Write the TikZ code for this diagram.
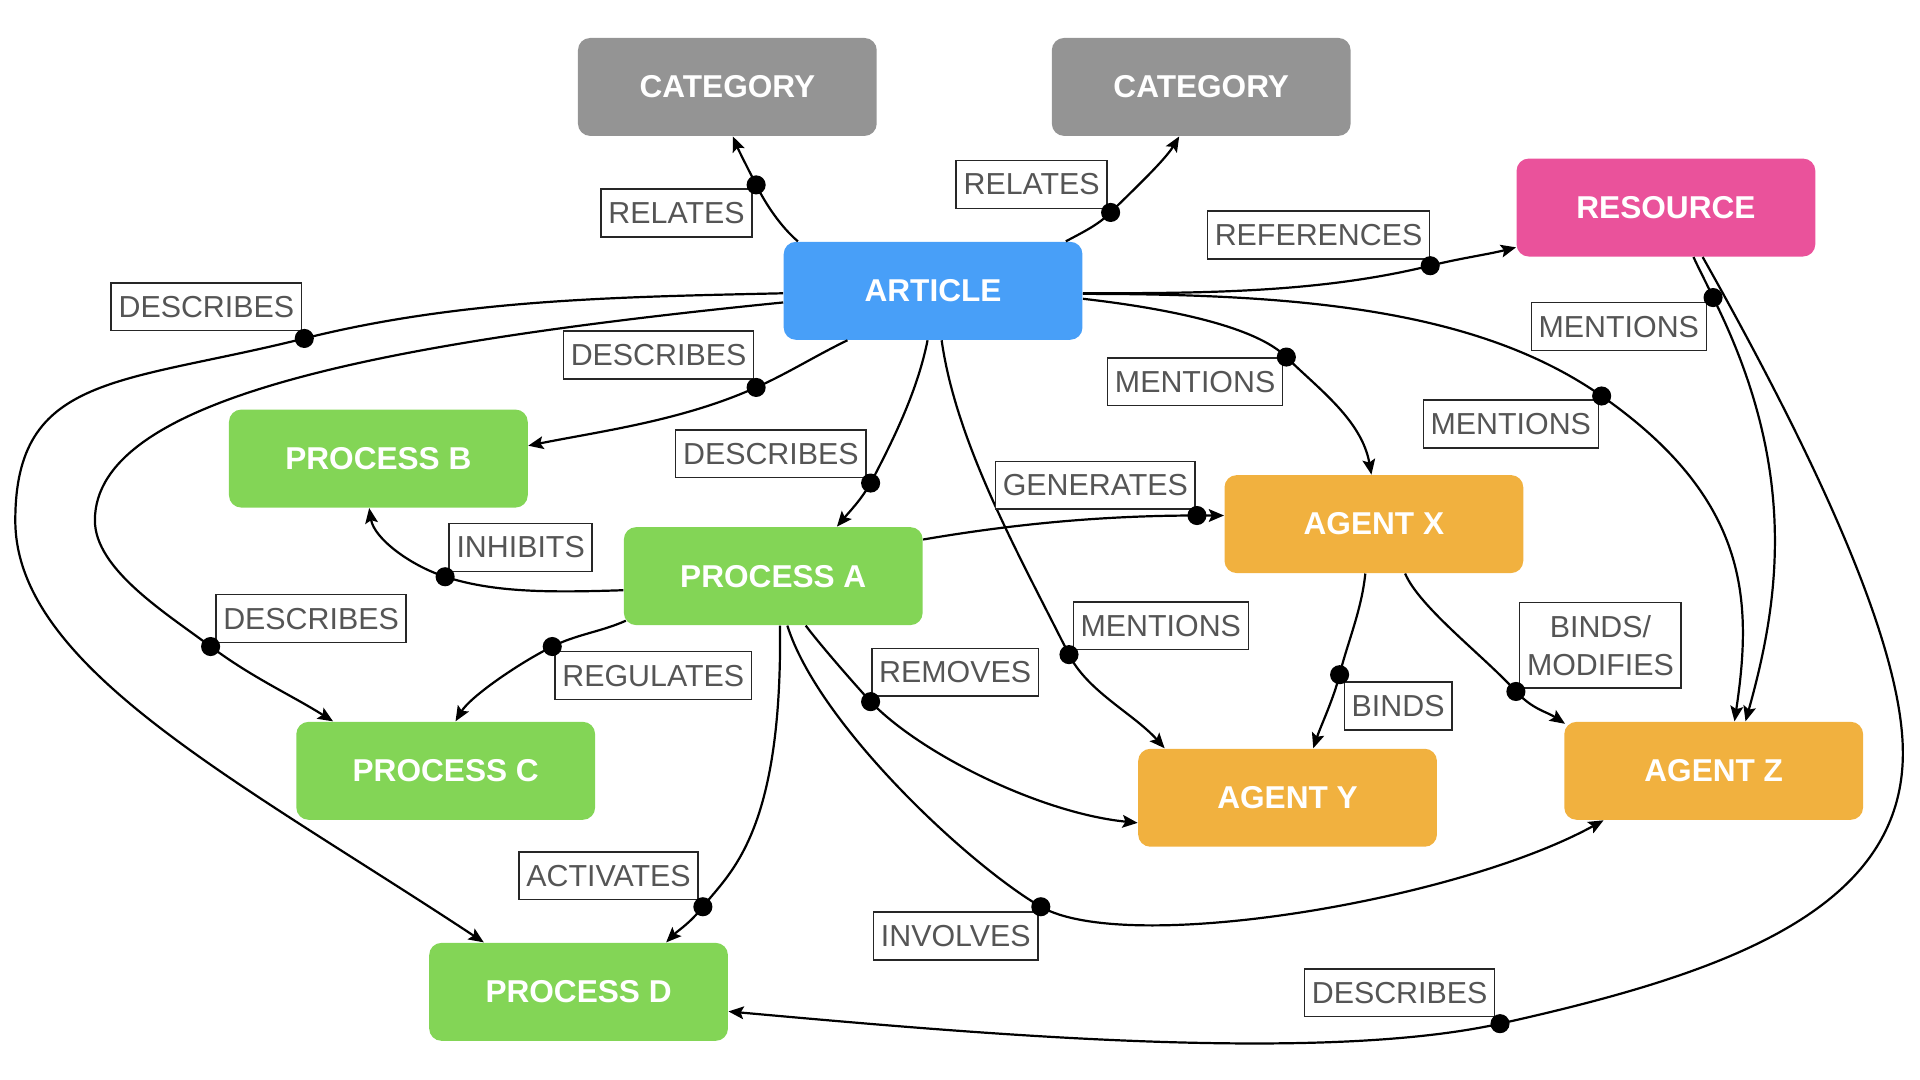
\documentclass[tikz,border=0pt]{standalone}
\usepackage{fontspec}
\setmainfont{Liberation Sans}
\usetikzlibrary{arrows.meta,calc}
\definecolor{catgrey}{HTML}{949494}
\definecolor{artblue}{HTML}{489FF8}
\definecolor{respink}{HTML}{EA529B}
\definecolor{procgreen}{HTML}{83D556}
\definecolor{agentorange}{HTML}{F1B13F}
\definecolor{labtext}{HTML}{555555}
\begin{document}
\begin{tikzpicture}[x=0.5pt,y=-0.5pt,
  box/.style={rounded corners=5pt, minimum width=122pt, minimum height=40pt, inner sep=0pt,
    text=white, font=\bfseries\fontsize{12.9}{15}\selectfont},
  catbox/.style={box, fill=catgrey},
  artbox/.style={box, fill=artblue},
  resbox/.style={box, fill=respink},
  procbox/.style={box, fill=procgreen},
  agentbox/.style={box, fill=agentorange},
  lab/.style={draw=black!85, line width=0.6pt, fill=white, text=labtext,
    font=\fontsize{12.4}{15.5}\selectfont, inner xsep=3pt, inner ysep=0pt,
    minimum height=19.5pt, align=center},
  edge/.style={line width=0.9pt, -{Stealth[length=6.2pt,width=5.2pt,inset=1.2pt]}},
  dot/.style={circle, fill=black, inner sep=0pt, minimum size=7.8pt}
]
\useasboundingbox (0,0) rectangle (1568,882);

% ---------- nodes ----------
\node[catbox]   (cat1) at (594,71)      {CATEGORY};
\node[catbox]   (cat2) at (981,71)      {CATEGORY};
\node[resbox]   (res)  at (1360.5,169.5){RESOURCE};
\node[artbox]   (art)  at (762,237.5)   {ARTICLE};
\node[procbox]  (pb)   at (309,374.5)   {PROCESS B};
\node[procbox]  (pa)   at (631.5,470.5) {PROCESS A};
\node[agentbox] (ax)   at (1122,428)    {AGENT X};
\node[procbox]  (pc)   at (364,629.5)   {PROCESS C};
\node[agentbox] (ay)   at (1051.5,651.5){AGENT Y};
\node[agentbox] (az)   at (1399.5,629.5){AGENT Z};
\node[procbox]  (pd)   at (472.5,810)   {PROCESS D};

% ---------- label points ----------
\coordinate (d1)  at (617.5,151);
\coordinate (d2)  at (907,173.5);
\coordinate (d3)  at (1168,217);
\coordinate (d4)  at (617.5,316.4);
\coordinate (d5)  at (711,394.5);
\coordinate (d6)  at (172,528);
\coordinate (w6)  at (77.5,425);
\coordinate (d7)  at (248.5,276.4);
\coordinate (w7)  at (12.5,425);
\coordinate (d8)  at (873,534.6);
\coordinate (d9)  at (1050.5,291.6);
\coordinate (d10) at (1308,323.4);
\coordinate (d11) at (1399,243);
\coordinate (d12) at (1225,836);
\coordinate (w12) at (1554,615);
\coordinate (d13) at (977.5,421);
\coordinate (d14) at (363.5,471);
\coordinate (d15) at (451,528);
\coordinate (d16) at (574,740.5);
\coordinate (d17) at (711,573);
\coordinate (d18) at (850,740.5);
\coordinate (d19) at (1094,551);
\coordinate (d20) at (1238,564.7);

% ---------- edges ----------
\draw[edge] ($(art.north west)+(12,0)$) .. controls +(-14,-12) and +(8,16) .. (d1)
  .. controls +(-6,-12) and +(5,12) .. ($(cat1.south)+(4.5,0)$);
\draw[edge] ($(art.north east)+(-14,0)$) .. controls +(15,-8) and +(-10,10) .. (d2)
  .. controls +(15,-15) and +(-12,20) .. ($(cat2.south)+(-18,0)$);
\draw[edge] ($(art.east)+(0,2)$) .. controls +(100,0) and +(-90,22) .. (d3)
  .. controls +(24,-6) and +(-24,6) .. ($(res.west)+(0,32.5)$);
\draw[edge] ($(art.south west)+(52.5,0)$) .. controls +(-25,12) and +(25,-11) .. (d4)
  .. controls +(-60,27) and +(60,-12) .. ($(pb.east)+(0,-10.5)$);
\draw[edge] ($(art.south)+(-4.5,0)$) .. controls +(-8,40) and +(20,-38) .. (d5)
  .. controls +(-8,14) and +(10,-12) .. ($(pa.north)+(52,0)$);
\draw[edge] ($(art.west)+(0,9.5)$) .. controls +(-330,33) and +(0,-100) .. (w6)
  .. controls +(0,40) and +(-36,-27) .. (d6)
  .. controls +(35,26) and +(-35,-22) .. ($(pc.north)+(-92,0)$);
\draw[edge] ($(art.west)+(0,2)$) .. controls +(-130,3) and +(130,-32.5) .. (d7)
  .. controls +(-150,37.5) and +(0,-120) .. (w7)
  .. controls +(0,120) and +(-200,-132) .. ($(pd.north west)+(45,0)$);
\draw[edge] ($(art.south)+(7,0)$) .. controls +(12,85) and +(-40,-80) .. (d8)
  .. controls +(15,30) and +(-25,-28) .. ($(ay.north west)+(22,0)$);
\draw[edge] ($(art.east)+(0,6.5)$) .. controls +(70,8) and +(-25,-25) .. (d9)
  .. controls +(25,25) and +(-8,-45) .. ($(ax.north)+(-2,0)$);
\draw[edge] ($(art.east)+(0,2.5)$) .. controls +(180,0) and +(-100,-70) .. (d10)
  .. controls +(120,84) and +(15,-100) .. ($(az.north)+(17,0)$);
\draw[edge] ($(res.south)+(22.5,0)$) .. controls +(5,11) and +(-5,-11) .. (d11)
  .. controls +(70,140) and +(28,-100) .. ($(az.north)+(26,0)$);
\draw[edge] ($(res.south)+(30,0)$) .. controls +(90,160) and +(0,-90) .. (w12)
  .. controls +(0,130) and +(180,-40) .. (d12)
  .. controls +(-150,33) and +(200,18) .. ($(pd.east)+(0,16)$);
\draw[edge] ($(pa.north east)+(0,10.5)$) .. controls +(70,-12) and +(-80,0) .. (d13)
  .. controls +(7,0) and +(-7,0) .. ($(ax.west)+(0,-7)$);
\draw[edge] ($(pa.west)+(0,11.5)$) .. controls +(-60,2) and +(40,13) .. (d14)
  .. controls +(-28,-9) and +(4,25) .. ($(pb.south)+(-7.5,0)$);
\draw[edge] ($(pa.south west)+(2,-4)$) .. controls +(-20,9) and +(20,-10) .. (d15)
  .. controls +(-28,14) and +(12,-20) .. ($(pc.north)+(8,0)$);
\draw[edge] ($(pa.south)+(5.5,0)$) .. controls +(2,170) and +(22,-28) .. (d16)
  .. controls +(-11,14) and +(10,-10) .. ($(pd.north)+(71.5,0)$);
\draw[edge] ($(pa.south)+(26.5,0)$) .. controls +(12,16) and +(-12,-13) .. (d17)
  .. controls +(40,42) and +(-80,-8) .. ($(ay.west)+(0,20.5)$);
\draw[edge] ($(pa.south)+(11.5,0)$) .. controls +(25,80) and +(-60,-35) .. (d18)
  .. controls +(70,40) and +(-120,66) .. ($(az.south west)+(32.5,0)$);
\draw[edge] ($(ax.south)+(-7,0)$) .. controls +(-3,30) and +(6,-25) .. (d19)
  .. controls +(-5,20) and +(6,-18) .. ($(ay.north)+(21,0)$);
\draw[edge] ($(ax.south)+(25.5,0)$) .. controls +(12,28) and +(-25,-28) .. (d20)
  .. controls +(14,15) and +(-15,-10) .. ($(az.north west)+(1,2)$);

% ---------- labels ----------
\node[lab] (l1)  at (552.5,174)   {RELATES};
\node[lab] (l2)  at (842.5,150.7) {RELATES};
\node[lab] (l3)  at (1076.8,192)  {REFERENCES};
\node[lab] (l4)  at (537.8,290)   {DESCRIBES};
\node[lab] (l5)  at (629.5,370.5) {DESCRIBES};
\node[lab] (l6)  at (254,505.2)   {DESCRIBES};
\node[lab] (l7)  at (168.5,250.5) {DESCRIBES};
\node[lab] (l8)  at (948,511)     {MENTIONS};
\node[lab] (l9)  at (976,311.7)   {MENTIONS};
\node[lab] (l10) at (1233.8,346.3){MENTIONS};
\node[lab] (l11) at (1322,266.7)  {MENTIONS};
\node[lab] (l12) at (1143,810.7)  {DESCRIBES};
\node[lab] (l13) at (894.5,396.3) {GENERATES};
\node[lab] (l14) at (425.2,447.1) {INHIBITS};
\node[lab] (l15) at (533.5,551.7) {REGULATES};
\node[lab] (l16) at (497,715.2)   {ACTIVATES};
\node[lab] (l17) at (780,549)     {REMOVES};
\node[lab] (l18) at (780.5,764.4) {INVOLVES};
\node[lab] (l19) at (1141.8,576.5){BINDS};
\node[lab, minimum height=35pt] (l20) at (1307,527) {BINDS/\\MODIFIES};

% ---------- dots ----------
\foreach \d in {d1,d2,d3,d4,d5,d6,d7,d8,d9,d10,d11,d12,d13,d14,d15,d16,d17,d18,d19,d20}
  \node[dot] at (\d) {};
\end{tikzpicture}
\end{document}
